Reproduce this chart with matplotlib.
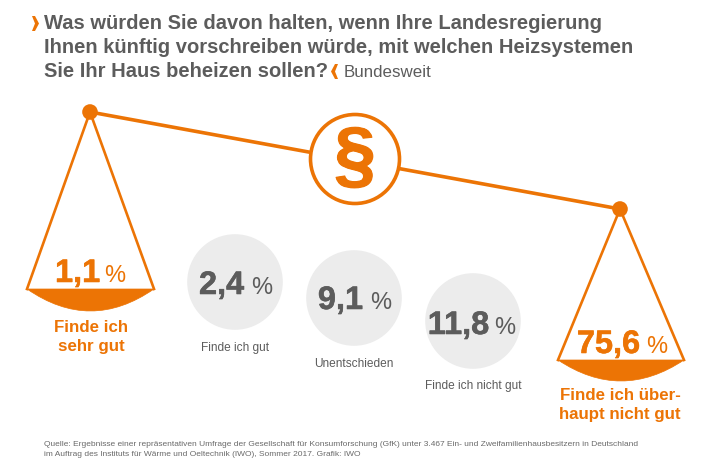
import matplotlib
matplotlib.use('Agg')
import matplotlib.pyplot as plt
import matplotlib.patheffects as pe
from matplotlib.patches import Circle, PathPatch, Polygon
from matplotlib.path import Path

plt.rcParams['font.family'] = ['Liberation Sans', 'DejaVu Sans']

orange = '#ec7405'
grey = '#5c5c5c'

# Werte aus der Umfrage
pan_values = ['1,1', '75,6']
pan_labels = [['Finde ich', 'sehr gut'], ['Finde ich über-', 'haupt nicht gut']]
circle_values = ['2,4', '9,1', '11,8']
circle_labels = ['Finde ich gut', 'Unentschieden', 'Finde ich nicht gut']

title_lines = ['Was würden Sie davon halten, wenn Ihre Landesregierung',
               'Ihnen künftig vorschreiben würde, mit welchen Heizsystemen',
               'Sie Ihr Haus beheizen sollen?']
source_lines = ['Quelle: Ergebnisse einer repräsentativen Umfrage der Gesellschaft für Konsumforschung (GfK) unter 3.467 Ein- und Zweifamilienhausbesitzern in Deutschland',
                'im Auftrag des Instituts für Wärme und Oeltechnik (IWO), Sommer 2017. Grafik: IWO']

fig = plt.figure(figsize=(7.1, 4.74), dpi=100)
ax = fig.add_axes([0, 0, 1, 1])
ax.set_xlim(0, 710)
ax.set_ylim(474, 0)
ax.axis('off')


# Etwas fetter als Liberation Bold
def heavy(color, width=0.4):
    return [pe.withStroke(linewidth=width, foreground=color)]


# Titel
title_y = [23.5, 47.5, 71]
for y, line in zip(title_y, title_lines):
    ax.text(44, y, line, fontsize=14.5, fontweight='bold', color=grey, va='center')
ax.text(344, 72, 'Bundesweit', fontsize=12.2, color=grey, va='center')


# Kleine Winkel am Titel
def chevron(x, y, direction):
    pts = [(x, y - 7.5), (x + 3 * direction, y - 7.5), (x + 7 * direction, y),
           (x + 3 * direction, y + 7.5), (x, y + 7.5), (x + 3 * direction, y)]
    ax.add_patch(Polygon(pts, closed=True, fc=orange, ec='none'))


chevron(32, 23.5, 1)
chevron(338, 71.5, -1)

# Waagebalken
ax.plot([90, 620], [112, 209], color=orange, lw=2.6, solid_capstyle='butt', zorder=1)
ax.add_patch(Circle((90, 112), 7.8, fc=orange, ec='none', zorder=3))
ax.add_patch(Circle((620, 209), 7.8, fc=orange, ec='none', zorder=3))

# Kreis mit Paragraph
ax.add_patch(Circle((355, 159), 44.5, fc='white', ec=orange, lw=2.6, zorder=2))
ax.text(355, 160, '§', fontsize=54, fontweight='bold', color=orange, ha='center', va='center', zorder=4,
        path_effects=heavy(orange, 0.8))


# Waagschalen
def pan(px, py, left, right, top, bottom):
    ax.plot([left, px, right], [top, py, top], color=orange, lw=1.9, zorder=2)
    ctrl = 2 * bottom - top
    path = Path([(left, top), ((left + right) / 2, ctrl), (right, top), (left, top)],
                [Path.MOVETO, Path.CURVE3, Path.CURVE3, Path.CLOSEPOLY])
    ax.add_patch(PathPatch(path, fc=orange, ec=orange, lw=0.5, zorder=3))


pan(90, 112, 27, 154, 289, 311)
pan(620, 209, 558, 684, 360, 381)

# Werte in den Schalen
pan_value_right = [100, 640]
pan_pct_left = [104, 646]
pan_base = [282, 353]
pan_label_x = [91, 620]
pan_label_y = [[328, 347], [396, 415]]
for i in range(2):
    ax.text(pan_value_right[i], pan_base[i], pan_values[i], fontsize=23.4, fontweight='bold',
            color=orange, ha='right', va='baseline', path_effects=heavy(orange))
    ax.text(pan_pct_left[i], pan_base[i], '%', fontsize=17, color=orange, ha='left', va='baseline')
    for y, line in zip(pan_label_y[i], pan_labels[i]):
        ax.text(pan_label_x[i], y, line, fontsize=12.2, fontweight='bold', color=orange,
                ha='center', va='center')

# Graue Kreise
centers = [(235, 282), (354, 298), (473, 321)]
value_right = [244, 363, 489]
pct_left = [251, 370, 494]
value_base = [294, 309, 334]
label_y = [348, 364, 386]
for i in range(3):
    ax.add_patch(Circle(centers[i], 47.8, fc='#ececec', ec='none', zorder=1))
    ax.text(value_right[i], value_base[i], circle_values[i], fontsize=23.4, fontweight='bold',
            color=grey, ha='right', va='baseline', zorder=2, path_effects=heavy(grey))
    ax.text(pct_left[i], value_base[i], '%', fontsize=17, color=grey, ha='left', va='baseline', zorder=2)
    ax.text(centers[i][0], label_y[i], circle_labels[i], fontsize=8.6, color=grey, ha='center', va='center')

# Quelle
source_y = [444, 454.3]
for y, line in zip(source_y, source_lines):
    ax.text(44, y, line, fontsize=6.05, color='#6a6a6a', va='center')

fig.savefig('out.png', dpi=100)
